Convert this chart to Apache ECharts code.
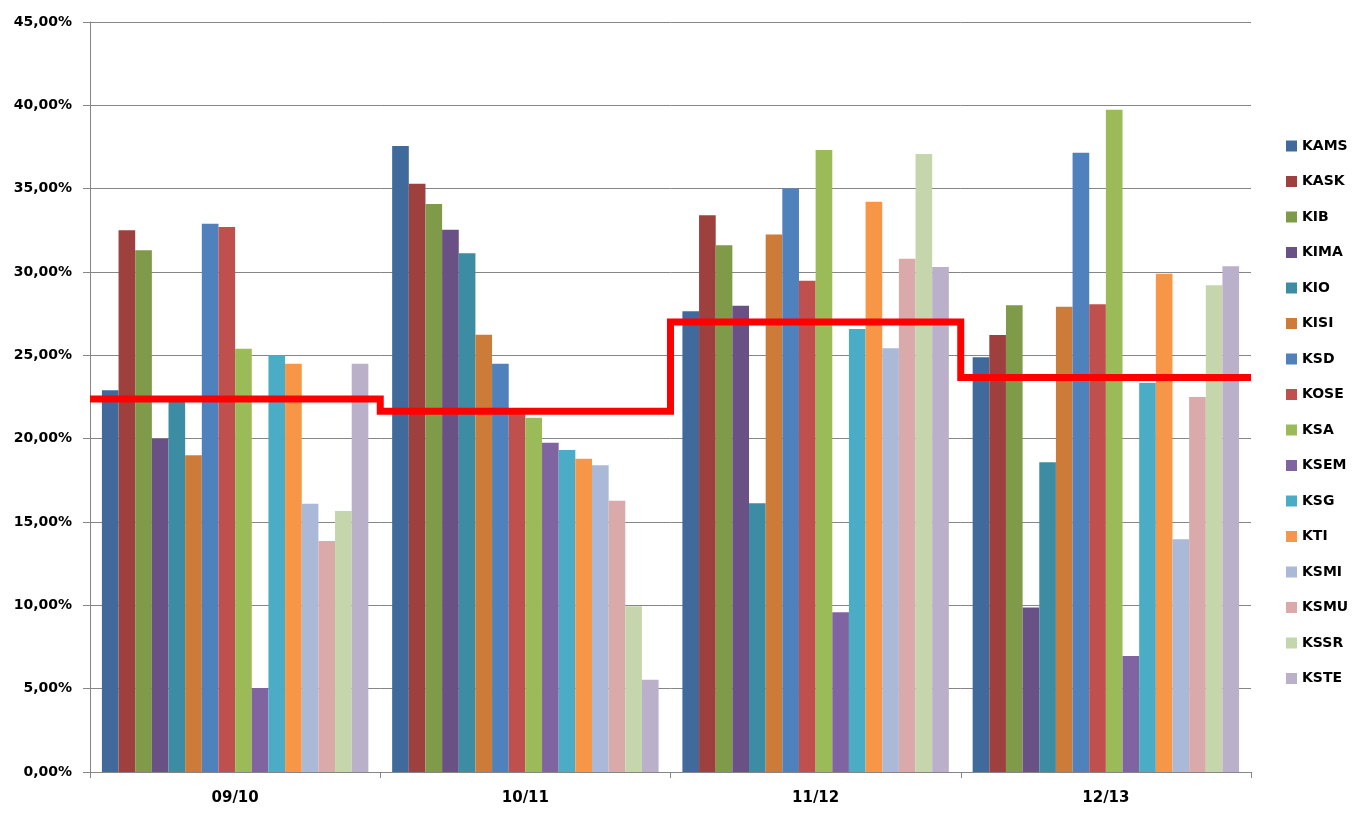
<!DOCTYPE html>
<html>
<head>
<meta charset="utf-8">
<script src="https://cdn.jsdelivr.net/npm/echarts@6/dist/echarts.min.js"></script>
<style>
html,body{margin:0;padding:0;background:#fff;}
#chart{width:1366px;height:822px;}
</style>
</head>
<body>
<div id="chart"></div>
<script>
var categories = ['09/10', '10/11', '11/12', '12/13'];
var seriesNames = ['KAMS','KASK','KIB','KIMA','KIO','KISI','KSD','KOSE','KSA','KSEM','KSG','KTI','KSMI','KSMU','KSSR','KSTE'];
var seriesColors = ['#416A9C','#9E413E','#7F9A48','#695185','#3C8DA3','#CC7B38','#4F81BD','#C0504D','#9BBB59','#8064A2','#4BACC6','#F79646','#AAB9D7','#D9AAA9','#C6D6AC','#BAB0C9'];

var KAMS = [22.9, 37.56, 27.65, 24.89];
var KASK = [32.5, 35.29, 33.41, 26.22];
var KIB  = [31.3, 34.08, 31.61, 28.0];
var KIMA = [20.0, 32.53, 27.97, 9.87];
var KIO  = [22.2, 31.13, 16.13, 18.59];
var KISI = [19.0, 26.23, 32.25, 27.91];
var KSD  = [32.9, 24.49, 35.01, 37.15];
var KOSE = [32.7, 21.5, 29.47, 28.07];
var KSA  = [25.4, 21.25, 37.32, 39.73];
var KSEM = [5.04, 19.75, 9.59, 6.96];
var KSG  = [25.0, 19.32, 26.58, 23.34];
var KTI  = [24.5, 18.79, 34.21, 29.89];
var KSMI = [16.1, 18.41, 25.43, 13.97];
var KSMU = [13.86, 16.27, 30.79, 22.5];
var KSSR = [15.66, 9.94, 37.08, 29.21];
var KSTE = [24.5, 5.53, 30.3, 30.35];

var average = [22.38, 21.65, 27.0, 23.67];

var yTicks = { min: 0, max: 45, interval: 5 };

var seriesValues = [KAMS,KASK,KIB,KIMA,KIO,KISI,KSD,KOSE,KSA,KSEM,KSG,KTI,KSMI,KSMU,KSSR,KSTE];

var fontFam = '"DejaVu Sans", Verdana, sans-serif';

var series = seriesNames.map(function(name, i){
  return {
    name: name,
    type: 'bar',
    data: seriesValues[i],
    barGap: '0%',
    barCategoryGap: '8.2%',
    itemStyle: { color: seriesColors[i] },
    z: 2
  };
});

var stepData = average.map(function(v, i){ return [i, v]; });
stepData.push([average.length, average[average.length - 1]]);

series.push({
  name: 'Average',
  type: 'line',
  xAxisIndex: 1,
  data: stepData,
  step: 'end',
  symbol: 'none',
  lineStyle: { color: '#FF0000', width: 7, join: 'miter', cap: 'butt' },
  z: 5,
  silent: true
});

var chart = echarts.init(document.getElementById('chart'));
chart.setOption({
  animation: false,
  backgroundColor: '#ffffff',
  grid: { left: 90, right: 115, top: 22, bottom: 50, containLabel: false },
  legend: {
    data: seriesNames,
    orient: 'vertical',
    left: 1281,
    top: 134,
    itemWidth: 11,
    itemHeight: 11,
    itemGap: 21.5,
    icon: 'rect',
    textStyle: { color: '#000', fontWeight: 'bold', fontSize: 14, fontFamily: fontFam, lineHeight: 14 }
  },
  xAxis: [{
    type: 'category',
    data: categories,
    axisLine: { lineStyle: { color: '#868686', width: 1 } },
    axisTick: { show: true, length: 6, lineStyle: { color: '#868686' } },
    axisLabel: { color: '#000', fontWeight: 'bold', fontSize: 15, fontFamily: fontFam, margin: 19 },
    splitLine: { show: false }
  }, {
    type: 'value',
    min: 0,
    max: categories.length,
    show: false
  }],
  yAxis: {
    type: 'value',
    min: yTicks.min,
    max: yTicks.max,
    interval: yTicks.interval,
    axisLine: { show: true, lineStyle: { color: '#868686', width: 1 } },
    axisTick: { show: true, length: 7, lineStyle: { color: '#868686' } },
    axisLabel: {
      color: '#000', fontWeight: 'bold', fontSize: 14, fontFamily: fontFam, margin: 18,
      formatter: function(v){ return v.toFixed(2).replace('.', ',') + '%'; }
    },
    splitLine: { show: true, lineStyle: { color: '#868686', width: 1 } }
  },
  series: series
});
</script>
</body>
</html>
